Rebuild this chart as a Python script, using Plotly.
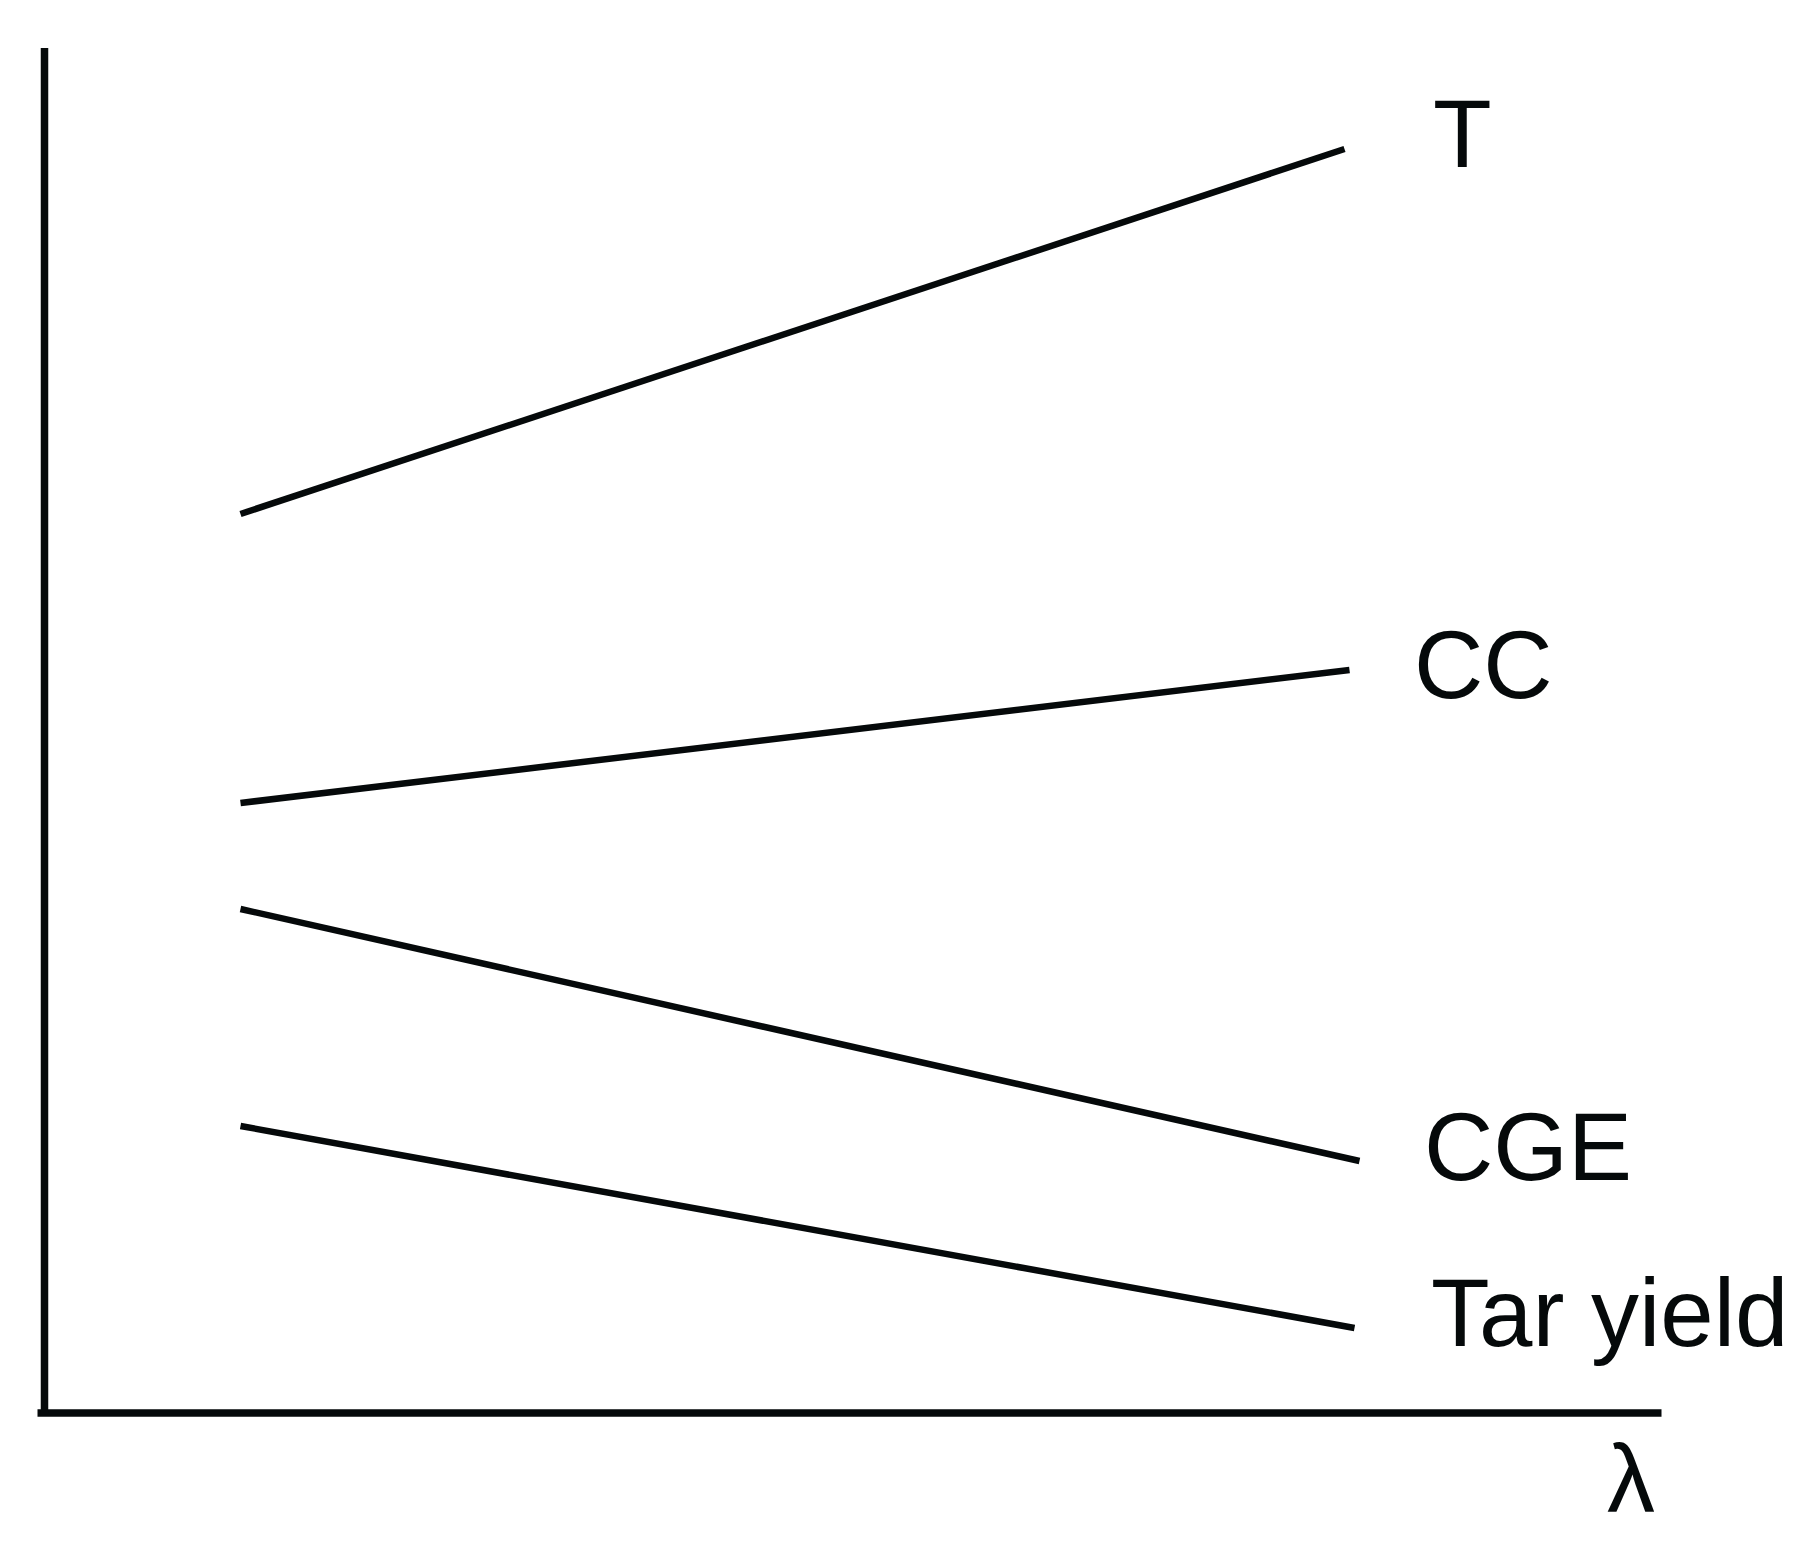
import plotly.graph_objects as go

# lambda positions where each curve starts and ends (1 unit = 100 px)
lam_start = 1.96
lam_end = [13.00, 13.05, 13.15, 13.10]

series_names = ["T", "CC", "CGE", "Tar yield"]
y_start = [8.99, 6.10, 5.04, 2.87]
y_end = [12.64, 7.43, 2.52, 0.85]

# label anchor points (left edge, vertical centre)
label_x = [13.86, 13.67, 13.77, 13.84]
label_y = [12.80, 7.49, 2.67, 1.01]

axis_x_extent = [-0.07, 16.17]
axis_y_extent = [0.0, 13.65]

INK = "#05090a"
FONT = dict(family="Liberation Sans, Arial, sans-serif", size=96, color=INK)

fig = go.Figure()

for name, ys, ye, xe in zip(series_names, y_start, y_end, lam_end):
    fig.add_trace(go.Scatter(x=[lam_start, xe], y=[ys, ye], mode="lines",
                             name=name, line=dict(color=INK, width=6.5)))

# axes drawn as lines so they stop where the original stops
fig.add_trace(go.Scatter(x=axis_x_extent, y=[0, 0], mode="lines",
                         line=dict(color=INK, width=7.5), showlegend=False))
fig.add_trace(go.Scatter(x=[0, 0], y=axis_y_extent, mode="lines",
                         line=dict(color=INK, width=7.5), showlegend=False))

for name, lx, ly in zip(series_names, label_x, label_y):
    fig.add_annotation(x=lx, y=ly, text=name, showarrow=False,
                       xanchor="left", yanchor="middle", font=FONT)

fig.add_annotation(x=15.86, y=-0.65, text="λ", showarrow=False,
                   xanchor="center", yanchor="middle", font=FONT)

# the page body adds an 8 px offset, so the ranges are shifted to match
fig.update_xaxes(range=[-0.365, 17.755], visible=False)
fig.update_yaxes(range=[-1.45, 14.05], visible=False)
fig.update_layout(
    width=1812, height=1550,
    margin=dict(l=0, r=0, t=0, b=0),
    paper_bgcolor="white", plot_bgcolor="white",
    showlegend=False,
)

fig.write_html("out.html")
